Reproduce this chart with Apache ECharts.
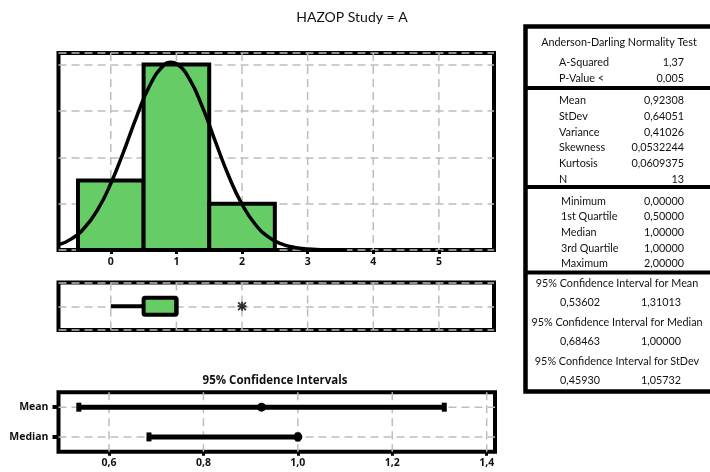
<!DOCTYPE html>
<html>
<head>
<meta charset="utf-8">
<script src="https://cdn.jsdelivr.net/npm/echarts@6/dist/echarts.min.js"></script>
<style>
  html, body { margin: 0; padding: 0; background: #fff; }
  #chart { width: 710px; height: 472px; }
</style>
</head>
<body>
<div id="chart"></div>
<script>
// ---- Data ----
const histBinEdges = [-0.5, 0.5, 1.5, 2.5];
const histCounts = [3, 8, 2];
const histTicks = [0, 1, 2, 3, 4, 5];

// fitted normal curve (count scale)
const curveX = [-0.8, -0.6, -0.4, -0.2, 0, 0.2, 0.4, 0.6, 0.8, 0.92, 1.0, 1.2, 1.4, 1.6, 1.8, 2.0, 2.2, 2.4, 2.6, 2.8, 3.0, 3.2, 3.4, 3.6];
const curveY = [0.22, 0.48, 0.96, 1.74, 2.87, 4.28, 5.80, 7.13, 7.95, 8.10, 8.04, 7.37, 6.14, 4.63, 3.17, 1.97, 1.11, 0.57, 0.26, 0.11, 0.04, 0.015, 0.005, 0.001];

// boxplot: lower whisker, Q1, median, Q3, upper whisker
const boxStats = [0, 0.5, 1, 1, 1];
const boxOutliers = [2];

const ciCategories = ['Mean', 'Median'];
const ciLower = [0.53602, 0.68463];
const ciEstimate = [0.92308, 1.0];
const ciUpper = [1.31013, 1.0];
const ciTicks = [0.6, 0.8, 1.0, 1.2, 1.4];

const adTitle = 'Anderson-Darling Normality Test';
const adRows = [['A-Squared', '1,37'], ['P-Value <', '0,005']];
const descRows = [
  ['Mean', '0,92308'], ['StDev', '0,64051'], ['Variance', '0,41026'],
  ['Skewness', '0,0532244'], ['Kurtosis', '0,0609375'], ['N', '13']
];
const quartRows = [
  ['Minimum', '0,00000'], ['1st Quartile', '0,50000'], ['Median', '1,00000'],
  ['3rd Quartile', '1,00000'], ['Maximum', '2,00000']
];
const ciTableRows = [
  ['95% Confidence Interval for Mean', '0,53602', '1,31013'],
  ['95% Confidence Interval for Median', '0,68463', '1,00000'],
  ['95% Confidence Interval for StDev', '0,45930', '1,05732']
];

// ---- Styles ----
const FONT = 'Lato, "Noto Sans", sans-serif';
const BOLD_FONT = '"Open Sans", "Noto Sans", sans-serif';
const GREEN = '#66cc66';
const GRID_COLOR = '#bdbdbd';
const DASH = [8, 5];
const INK = '#111';

function verticalGrid(xi, yi, values) {
  return {
    type: 'custom', xAxisIndex: xi, yAxisIndex: yi, z: 1, silent: true,
    data: values.map(v => [v]),
    encode: { x: 0 },
    renderItem(params, api) {
      const cs = params.coordSys;
      const x = api.coord([api.value(0), 0])[0];
      return { type: 'line', shape: { x1: x, y1: cs.y, x2: x, y2: cs.y + cs.height },
        style: { stroke: GRID_COLOR, lineWidth: 1.5, lineDash: DASH } };
    }
  };
}

const chart = echarts.init(document.getElementById('chart'), null, { renderer: 'canvas' });

// summary table at the right
const tableTop = 26.5, tableLeft = 525.5;
const graphics = [
  { type: 'rect', shape: { x: tableLeft, y: tableTop, width: 200, height: 365 },
    style: { fill: '#fff', stroke: '#000', lineWidth: 4.5 }, z: 10 }
];
[88, 187, 272.5].forEach(y => graphics.push({
  type: 'line', shape: { x1: tableLeft, y1: y, x2: 712, y2: y },
  style: { stroke: '#000', lineWidth: 4 }, z: 11
}));
function txt(text, x, y, align) {
  graphics.push({ type: 'text', x, y, z: 12,
    style: { text, fill: INK, font: '10.8px ' + FONT,
      textAlign: align, align: align, textVerticalAlign: 'middle', verticalAlign: 'middle' } });
}
txt(adTitle, 619, 43, 'center');
const adY = [63, 79];
adRows.forEach((r, i) => { txt(r[0], 559, adY[i], 'left'); txt(r[1], 684, adY[i], 'right'); });
const descY = [101, 117, 133, 148, 164, 179.5];
descRows.forEach((r, i) => { txt(r[0], 559, descY[i], 'left'); txt(r[1], 684, descY[i], 'right'); });
const quartY = [202, 217, 233, 249, 264];
quartRows.forEach((r, i) => { txt(r[0], 561, quartY[i], 'left'); txt(r[1], 684, quartY[i], 'right'); });
const ciHeadY = [284, 323, 362];
ciTableRows.forEach((r, i) => {
  txt(r[0], 617, ciHeadY[i], 'center');
  txt(r[1], 580, ciHeadY[i] + 19, 'center');
  txt(r[2], 661, ciHeadY[i] + 19, 'center');
});

// outlier marker: four crossing bars
const asterisk = 'path://M4,0L6,0L6,10L4,10Z M0,4L10,4L10,6L0,6Z ' +
  'M1.4,0L10,8.6L8.6,10L0,1.4Z M8.6,0L10,1.4L1.4,10L0,8.6Z';

const option = {
  animation: false,
  backgroundColor: '#fff',
  textStyle: { fontFamily: FONT },
  title: [
    { text: 'HAZOP Study = A', left: 352, top: 10, padding: 0, textAlign: 'center',
      textStyle: { fontFamily: FONT, fontSize: 14, fontWeight: 'normal', color: INK } },
    { text: '95% Confidence Intervals', left: 275, top: 375, padding: 0, textAlign: 'center',
      textStyle: { fontFamily: BOLD_FONT, fontSize: 11.5, fontWeight: 'bold', color: INK } }
  ],
  grid: [
    { left: 58.5, top: 53, width: 435.5, height: 197, show: true, borderColor: '#000', borderWidth: 4, backgroundColor: '#fff' },
    { left: 58.5, top: 282.5, width: 435.5, height: 47.5, show: true, borderColor: '#000', borderWidth: 4, backgroundColor: '#fff' },
    { left: 58.5, top: 392.3, width: 436.5, height: 59.5, show: true, borderColor: '#000', borderWidth: 4, backgroundColor: '#fff' }
  ],
  xAxis: [
    { type: 'value', gridIndex: 0, min: -0.797, max: 5.84,
      axisLine: { show: false }, splitLine: { show: false },
      axisTick: { show: true, customValues: histTicks, length: 4, lineStyle: { color: '#000', width: 3 } },
      axisLabel: { customValues: histTicks, fontSize: 10.5, fontWeight: 'bold', color: INK, margin: 7, fontFamily: BOLD_FONT } },
    { type: 'value', gridIndex: 1, min: -0.797, max: 5.84,
      axisLine: { show: false }, splitLine: { show: false }, axisTick: { show: false }, axisLabel: { show: false } },
    { type: 'value', gridIndex: 2, min: 0.493, max: 1.4176,
      axisLine: { show: false }, splitLine: { show: false },
      axisTick: { show: true, customValues: ciTicks, length: 4, lineStyle: { color: '#000', width: 3 } },
      axisLabel: { customValues: ciTicks, fontSize: 10.5, fontWeight: 'bold', color: INK, margin: 6, fontFamily: BOLD_FONT,
        formatter: v => v.toFixed(1).replace('.', ',') } }
  ],
  yAxis: [
    { type: 'value', gridIndex: 0, min: 0, max: 8.5, interval: 2,
      axisLine: { show: false }, axisTick: { show: false }, axisLabel: { show: false },
      splitLine: { show: true, lineStyle: { color: GRID_COLOR, width: 1.5, type: DASH } } },
    { type: 'value', gridIndex: 1, min: 0, max: 2, interval: 1,
      axisLine: { show: false }, axisTick: { show: false }, axisLabel: { show: false },
      splitLine: { show: true, lineStyle: { color: GRID_COLOR, width: 1.5, type: DASH } } },
    { type: 'category', gridIndex: 2, data: ciCategories, inverse: true,
      axisLine: { show: false }, splitLine: { show: false },
      axisTick: { show: true, alignWithLabel: true, length: 6, lineStyle: { color: '#000', width: 4 } },
      axisLabel: { fontSize: 10.5, fontWeight: 'bold', color: INK, margin: 10, fontFamily: BOLD_FONT } }
  ],
  series: [
    verticalGrid(0, 0, histTicks),
    verticalGrid(1, 1, histTicks),
    verticalGrid(2, 2, ciTicks),
    {
      type: 'custom', xAxisIndex: 2, yAxisIndex: 2, z: 1, silent: true,
      data: ciCategories.map((c, i) => [i]),
      encode: { y: 0 },
      renderItem(params, api) {
        const cs = params.coordSys;
        const y = api.coord([ciTicks[0], api.value(0)])[1];
        return { type: 'line', shape: { x1: cs.x, y1: y, x2: cs.x + cs.width, y2: y },
          style: { stroke: GRID_COLOR, lineWidth: 1.5, lineDash: DASH } };
      }
    },
    {
      type: 'custom', xAxisIndex: 0, yAxisIndex: 0, z: 3,
      data: histCounts.map((c, i) => [histBinEdges[i], histBinEdges[i + 1], c]),
      encode: { x: [0, 1], y: 2 },
      renderItem(params, api) {
        const p0 = api.coord([api.value(0), api.value(2)]);
        const p1 = api.coord([api.value(1), 0]);
        return { type: 'rect', shape: { x: p0[0], y: p0[1], width: p1[0] - p0[0], height: p1[1] - p0[1] },
          style: { fill: GREEN, stroke: '#000', lineWidth: 4 } };
      }
    },
    {
      type: 'line', xAxisIndex: 0, yAxisIndex: 0, z: 4, smooth: true, showSymbol: false, symbol: 'none',
      data: curveX.map((x, i) => [x, curveY[i]]),
      lineStyle: { color: '#000', width: 3.5 }
    },
    {
      type: 'custom', xAxisIndex: 1, yAxisIndex: 1, z: 3,
      data: [boxStats],
      encode: { x: [0, 1, 2, 3, 4] },
      renderItem(params, api) {
        const yc = api.coord([0, 1])[1];
        const h = 17;
        const xs = [0, 1, 2, 3, 4].map(k => api.coord([api.value(k), 1])[0]);
        return { type: 'group', children: [
          { type: 'line', shape: { x1: xs[0], y1: yc, x2: xs[1], y2: yc }, style: { stroke: '#000', lineWidth: 4 } },
          { type: 'line', shape: { x1: xs[3], y1: yc, x2: xs[4], y2: yc }, style: { stroke: '#000', lineWidth: 4 } },
          { type: 'rect', shape: { x: xs[1], y: yc - h / 2, width: xs[3] - xs[1], height: h, r: 1.5 },
            style: { fill: GREEN, stroke: '#000', lineWidth: 4 } },
          { type: 'line', shape: { x1: xs[2], y1: yc - h / 2, x2: xs[2], y2: yc + h / 2 }, style: { stroke: '#000', lineWidth: 4 } }
        ] };
      }
    },
    {
      type: 'scatter', xAxisIndex: 1, yAxisIndex: 1, z: 4,
      data: boxOutliers.map(v => [v, 1]),
      symbol: asterisk, symbolSize: 9, itemStyle: { color: '#000' }
    },
    {
      type: 'custom', xAxisIndex: 2, yAxisIndex: 2, z: 3,
      data: ciCategories.map((c, i) => [i, ciLower[i], ciEstimate[i], ciUpper[i]]),
      encode: { y: 0, x: [1, 2, 3] },
      renderItem(params, api) {
        const idx = api.value(0);
        const pl = api.coord([api.value(1), idx]);
        const pe = api.coord([api.value(2), idx]);
        const pu = api.coord([api.value(3), idx]);
        const y = pl[1];
        return { type: 'group', children: [
          { type: 'line', shape: { x1: pl[0], y1: y, x2: pu[0], y2: y }, style: { stroke: '#000', lineWidth: 5 } },
          { type: 'rect', shape: { x: pl[0] - 2.5, y: y - 4.5, width: 5, height: 9 }, style: { fill: '#000' } },
          { type: 'rect', shape: { x: pu[0] - 2.5, y: y - 4.5, width: 5, height: 9 }, style: { fill: '#000' } },
          { type: 'circle', shape: { cx: pe[0], cy: y, r: 4.5 }, style: { fill: '#000' } }
        ] };
      }
    }
  ],
  graphic: graphics
};

chart.setOption(option);
</script>
</body>
</html>
